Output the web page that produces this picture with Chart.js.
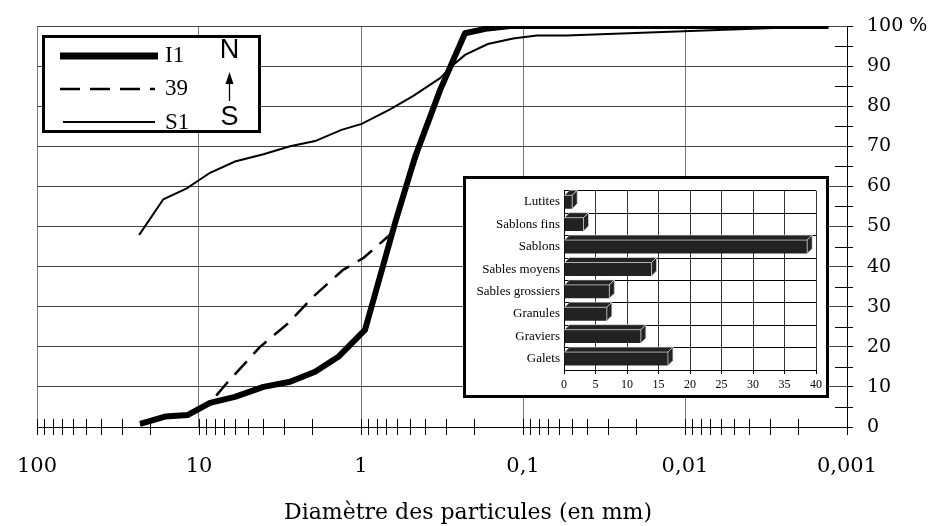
<!DOCTYPE html>
<html>
<head>
<meta charset="utf-8">
<script src="https://cdn.jsdelivr.net/npm/chart.js@4.4.0/dist/chart.umd.min.js"></script>
<style>
  html, body { margin: 0; padding: 0; background: #fff; }
  #wrap { position: relative; width: 936px; height: 526px; overflow: hidden; }
  #main { position: absolute; left: 0; top: 0; }
  #legend { position: absolute; left: 0; top: 0; pointer-events: none; }
  #inset { position: absolute; left: 463px; top: 176px; width: 366px; height: 222px;
           border: 3px solid #000; box-sizing: border-box; background: #fff; }
  #insetChart { display: block; }
</style>
</head>
<body>
<div id="wrap">
  <canvas id="main" width="936" height="526"></canvas>
  <svg id="legend" width="936" height="526">
    <rect x="43.5" y="36.5" width="216" height="95" fill="#fff" stroke="#000" stroke-width="3"/>
    <line x1="60" y1="56" x2="158" y2="56" stroke="#000" stroke-width="7"/>
    <text x="165" y="62" font-family="Liberation Serif" font-size="23">I1</text>
    <line x1="60" y1="89" x2="155" y2="89" stroke="#000" stroke-width="2.5" stroke-dasharray="20 10"/>
    <text x="165" y="95" font-family="Liberation Serif" font-size="23">39</text>
    <line x1="63" y1="122" x2="155" y2="122" stroke="#000" stroke-width="2"/>
    <text x="165" y="129" font-family="Liberation Serif" font-size="23">S1</text>
    <text x="229.5" y="58" text-anchor="middle" font-family="Liberation Sans" font-size="27">N</text>
    <line x1="229.5" y1="82" x2="229.5" y2="101" stroke="#000" stroke-width="1.3"/>
    <polygon points="229.5,72 225.5,84 233.5,84" fill="#000"/>
    <text x="229.5" y="125" text-anchor="middle" font-family="Liberation Sans" font-size="27">S</text>
  </svg>
  <div id="inset"><canvas id="insetChart" width="360" height="216"></canvas></div>
</div>
<script>
// particle size (mm) / cumulative % passing
const sizesI1 = [23.1, 16.2, 11.7, 8.55, 6.0, 4.0, 2.74, 1.92, 1.38, 0.945, 0.617, 0.464, 0.325, 0.228, 0.165, 0.12, 0.0013];
const passI1  = [0.8, 2.6, 3.0, 6.0, 7.5, 10.0, 11.3, 13.8, 17.5, 24.2, 50.8, 67.3, 84.0, 98.2, 99.4, 100, 100];

const sizes39 = [23.1, 16.2, 11.7, 8.55, 6.75, 4.2, 2.81, 1.97, 1.29, 0.97, 0.646, 0.43, 0.325, 0.228, 0.12, 0.0013];
const pass39  = [0.5, 2.6, 3.0, 6.0, 10.9, 20.0, 25.9, 32.5, 39.2, 42.1, 48.3, 70.0, 84.0, 98.2, 100, 100];

const sizesS1 = [23.4, 16.6, 11.9, 8.55, 6.0, 4.0, 2.74, 1.92, 1.32, 0.99, 0.662, 0.478, 0.325, 0.27, 0.228, 0.165, 0.115, 0.082, 0.054, 0.0013];
const passS1  = [47.9, 56.8, 59.5, 63.4, 66.2, 68.0, 70.0, 71.3, 74.1, 75.6, 79.2, 82.5, 87.0, 90.3, 92.8, 95.5, 96.9, 97.6, 97.6, 100];

const decadeValues = [100, 10, 1, 0.1, 0.01, 0.001];
const decadeLabels = ['100', '10', '1', '0,1', '0,01', '0,001'];

// inset: grain classes (%)
const classes  = ['Lutites', 'Sablons fins', 'Sablons', 'Sables moyens', 'Sables grossiers', 'Granules', 'Graviers', 'Galets'];
const classPct = [1.3, 3.1, 38.6, 13.9, 7.2, 6.8, 12.2, 16.5];

const pts = (xs, ys) => xs.map((v, i) => ({ x: v, y: ys[i] }));
const isDecade = (v) => decadeValues.indexOf(v) >= 0;

// small crossing ticks: every log step on x, every 5 % on y
const extraTicks = {
  id: 'extraTicks',
  beforeDatasetsDraw(chart) {
    const { ctx, scales: { x, y } } = chart;
    ctx.save();
    ctx.strokeStyle = '#000';
    ctx.lineWidth = 1;
    ctx.beginPath();
    x.ticks.forEach(t => {
      const px = Math.round(x.getPixelForValue(t.value)) + 0.5;
      ctx.moveTo(px, y.bottom - 8);
      ctx.lineTo(px, y.bottom + 8);
    });
    for (let v = 5; v < 100; v += 10) {
      const py = Math.round(y.getPixelForValue(v)) + 0.5;
      ctx.moveTo(y.left - 12, py);
      ctx.lineTo(y.left + 6, py);
    }
    ctx.stroke();
    ctx.restore();
  }
};

new Chart(document.getElementById('main'), {
  type: 'line',
  data: {
    datasets: [
      { label: 'I1', data: pts(sizesI1, passI1), yAxisID: 'y', borderColor: '#000', borderWidth: 6, borderJoinStyle: 'round', pointRadius: 0 },
      { label: '39', data: pts(sizes39, pass39), yAxisID: 'y', borderColor: '#000', borderWidth: 2.5, borderDash: [18, 10], pointRadius: 0 },
      { label: 'S1', data: pts(sizesS1, passS1), yAxisID: 'y', borderColor: '#000', borderWidth: 2, pointRadius: 0 }
    ]
  },
  options: {
    responsive: false,
    animation: false,
    layout: { padding: { top: 26, left: 0, right: 0, bottom: 0 } },
    plugins: {
      legend: { display: false },
      tooltip: { enabled: false },
      title: {
        display: true,
        position: 'bottom',
        text: 'Diamètre des particules (en mm)',
        color: '#000',
        font: { family: 'DejaVu Serif', size: 22, weight: 'normal' },
        padding: { top: 3, bottom: 0 }
      }
    },
    scales: {
      x: {
        type: 'logarithmic',
        reverse: true,
        min: 0.001,
        max: 100,
        afterBuildTicks: (s) => {
          const t = [];
          for (let e = -3; e <= 2; e++) {
            for (let m = 1; m <= 9; m++) {
              const v = +(m * Math.pow(10, e)).toPrecision(6);
              if (v > 100) break;
              t.push({ value: v });
            }
          }
          s.ticks = t;
        },
        afterFit: (s) => { s.height = 69.6; },
        grid: {
          color: (c) => (c.tick && isDecade(c.tick.value)) ? '#777' : 'rgba(0,0,0,0)',
          drawTicks: false
        },
        border: { color: '#000' },
        ticks: {
          autoSkip: false,
          maxRotation: 0,
          minRotation: 0,
          padding: 27,
          color: '#000',
          font: { family: 'DejaVu Serif', size: 21 },
          callback: (v) => {
            const i = decadeValues.indexOf(v);
            return i < 0 ? '' : decadeLabels[i];
          }
        }
      },
      y: {
        position: 'right',
        min: 0,
        max: 100,
        afterFit: (s) => { s.width = 89; },
        grid: { color: '#444', tickLength: 6, tickColor: '#000' },
        border: { color: '#000' },
        ticks: {
          stepSize: 10,
          padding: 14,
          color: '#000',
          font: { family: 'DejaVu Serif', size: 19 },
          callback: (v) => v === 100 ? '100 %' : v
        }
      },
      yl: {
        position: 'left',
        min: 0,
        max: 100,
        grid: { display: false },
        border: { display: false },
        ticks: { display: false },
        afterFit: (s) => { s.width = 37; }
      }
    }
  },
  plugins: [extraTicks]
});

// top and side faces for the inset bars
const bar3d = {
  id: 'bar3d',
  afterDatasetsDraw(chart) {
    const ctx = chart.ctx;
    const d = 5;
    chart.getDatasetMeta(0).data.forEach(bar => {
      const { x, y, base, height } = bar.getProps(['x', 'y', 'base', 'height'], true);
      const top = y - height / 2, bot = y + height / 2;
      ctx.save();
      ctx.fillStyle = '#222';
      ctx.strokeStyle = '#ddd';
      ctx.lineWidth = 0.7;
      ctx.beginPath();
      ctx.moveTo(base, top);
      ctx.lineTo(base + d, top - d);
      ctx.lineTo(x + d, top - d);
      ctx.lineTo(x, top);
      ctx.closePath();
      ctx.fill();
      ctx.stroke();
      ctx.beginPath();
      ctx.moveTo(x, top);
      ctx.lineTo(x + d, top - d);
      ctx.lineTo(x + d, bot - d);
      ctx.lineTo(x, bot);
      ctx.closePath();
      ctx.fill();
      ctx.stroke();
      ctx.restore();
    });
  }
};

new Chart(document.getElementById('insetChart'), {
  type: 'bar',
  data: {
    labels: classes,
    datasets: [{ data: classPct, backgroundColor: '#222', borderWidth: 0, barPercentage: 0.6, categoryPercentage: 1 }]
  },
  options: {
    indexAxis: 'y',
    responsive: false,
    animation: false,
    layout: { padding: { top: 10, right: 8, left: 0, bottom: 0 } },
    plugins: { legend: { display: false }, tooltip: { enabled: false } },
    scales: {
      x: {
        min: 0,
        max: 40,
        afterFit: (s) => { s.height = 25; },
        grid: { color: '#333', tickLength: 4, tickColor: '#000' },
        border: { color: '#000' },
        ticks: { stepSize: 5, padding: 4, color: '#000', font: { family: 'Liberation Serif', size: 12 } }
      },
      y: {
        afterFit: (s) => { s.width = 98; },
        grid: { color: '#000', drawTicks: false },
        border: { color: '#000' },
        ticks: { padding: 4, color: '#000', font: { family: 'Liberation Serif', size: 13 } }
      }
    }
  },
  plugins: [bar3d]
});
</script>
</body>
</html>
